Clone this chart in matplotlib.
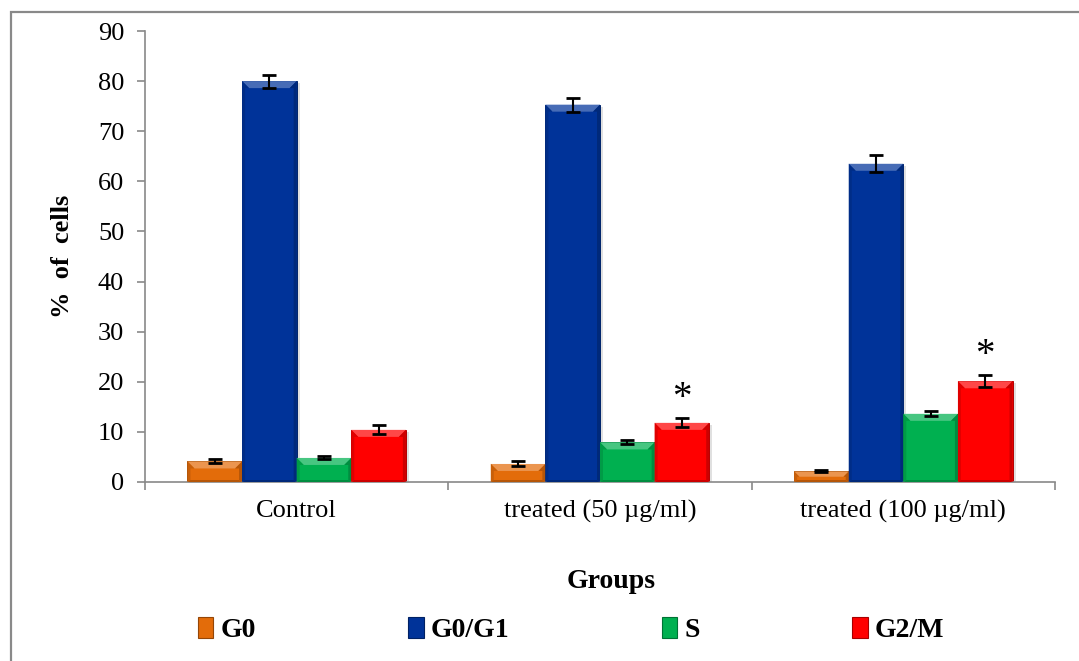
import numpy as np
import matplotlib.pyplot as plt
from matplotlib.patches import Rectangle, Polygon, Patch
from matplotlib import colors as mcolors

plt.rcParams['font.family'] = ['Liberation Serif', 'DejaVu Serif']

# data
groups = ["Control", "treated (50 \u00b5g/ml)", "treated (100 \u00b5g/ml)"]
phases = ["G0", "G0/G1", "S", "G2/M"]
g0 = [4.1, 3.6, 2.1]
g0g1 = [80.0, 75.3, 63.5]
s_phase = [4.8, 7.9, 13.6]
g2m = [10.4, 11.8, 20.1]
g0_err = [0.4, 0.5, 0.2]
g0g1_err = [1.3, 1.4, 1.7]
s_err = [0.3, 0.4, 0.5]
g2m_err = [0.9, 0.9, 1.2]
signif = [False, True, True]  # asterisk over G2/M

values = [g0, g0g1, s_phase, g2m]
errors = [g0_err, g0g1_err, s_err, g2m_err]
colours = ["#E36C0A", "#003399", "#00B050", "#FF0000"]

W, H = 1079, 661
fig = plt.figure(figsize=(W / 100, H / 100), dpi=100)
ax = fig.add_axes([145 / W, 1 - 482 / H, (1055 - 145) / W, (482 - 31) / H])

bw = 0.18
x = np.arange(len(groups))
ax.set_xlim(-0.5, len(groups) - 0.5)
ax.set_ylim(0, 90)

# pixel -> data conversion for the bevel
px_x = (len(groups)) / (1055 - 145)
px_y = 90 / (482 - 31)


def shade(c, f):
    r, g, b = mcolors.to_rgb(c)
    if f > 0:
        return (r + (1 - r) * f, g + (1 - g) * f, b + (1 - b) * f)
    return (r * (1 + f), g * (1 + f), b * (1 + f))


def bevel_bar(x0, h, c):
    x1 = x0 + bw
    # soft shadow
    ax.add_patch(Rectangle((x0 + 3 * px_x, 0), bw, h - 2 * px_y, facecolor="#000000",
                           alpha=0.12, lw=0, zorder=1))
    ax.add_patch(Rectangle((x0, 0), bw, h, facecolor=c,
                           edgecolor=shade(c, -0.3), lw=0.7, zorder=2))
    hp = h / px_y
    bt = min(7, hp / 2)
    bs = min(3, hp / 3)
    bb = min(2, hp / 4)
    tx, ty = bt * px_x, bt * px_y
    sx = bs * px_x
    by = bb * px_y
    # top facet lighter
    ax.add_patch(Polygon([(x0, h), (x1, h), (x1 - tx, h - ty), (x0 + tx, h - ty)],
                         closed=True, facecolor=shade(c, 0.28), lw=0, zorder=3))
    # side facets darker
    ax.add_patch(Polygon([(x0, h), (x0 + tx, h - ty), (x0 + sx, h - ty), (x0 + sx, by), (x0, 0)],
                         closed=True, facecolor=shade(c, -0.12), lw=0, zorder=3))
    ax.add_patch(Polygon([(x1, h), (x1 - tx, h - ty), (x1 - sx, h - ty), (x1 - sx, by), (x1, 0)],
                         closed=True, facecolor=shade(c, -0.2), lw=0, zorder=3))
    ax.add_patch(Polygon([(x0, 0), (x0 + sx, by), (x1 - sx, by), (x1, 0)],
                         closed=True, facecolor=shade(c, -0.2), lw=0, zorder=3))


for i, (vals, errs, c) in enumerate(zip(values, errors, colours)):
    xs = x - 2 * bw + i * bw
    for xi, v in zip(xs, vals):
        bevel_bar(xi, v, c)
    ax.errorbar(xs + bw / 2, vals, yerr=errs, fmt="none", ecolor="black",
                elinewidth=1.5, capsize=5, capthick=2, zorder=5)

for xi, v, e, star in zip(x, g2m, g2m_err, signif):
    if star:
        ax.annotate("*", (xi + 1.5 * bw, v + e), xytext=(0, 1), textcoords="offset points",
                    ha="center", va="bottom", fontsize=28, zorder=6)

for side in ["top", "right"]:
    ax.spines[side].set_visible(False)
for side in ["left", "bottom"]:
    ax.spines[side].set_color("#898989")
    ax.spines[side].set_linewidth(1.2)

ax.set_yticks(np.arange(0, 91, 10))
ax.tick_params(axis="y", direction="out", length=6, width=1.2, color="#898989",
               labelsize=19, pad=9)
ax.set_xticks(x)
ax.set_xticklabels(groups)
ax.tick_params(axis="x", which="major", length=0, labelsize=19, pad=13)
ax.set_xticks(np.arange(-0.5, len(groups), 1), minor=True)
ax.tick_params(axis="x", which="minor", direction="out", length=6, width=1.2,
               color="#898989")

ax.set_ylabel("%  of  cells", fontsize=19, fontweight="bold", labelpad=17)
fig.text(611 / W, 1 - 581 / H, "Groups", ha="center", va="center", fontsize=20,
         fontweight="bold")

handles = [Patch(facecolor=c, edgecolor=shade(c, -0.35), lw=0.8) for c in colours]
fig.legend(handles, phases, loc="center", bbox_to_anchor=(571 / W, 1 - 630 / H),
           ncol=4, frameon=False, handlelength=0.55, handleheight=0.8,
           handletextpad=0.25, columnspacing=5.5,
           prop={"size": 20, "weight": "bold"})

# outer chart-area border
fig.add_artist(Rectangle((11 / W, -0.1), 2, 1 - 12 / H + 0.1, transform=fig.transFigure,
                         fill=False, edgecolor="#898989", lw=1.6))

fig.savefig("out.png", dpi=100)
